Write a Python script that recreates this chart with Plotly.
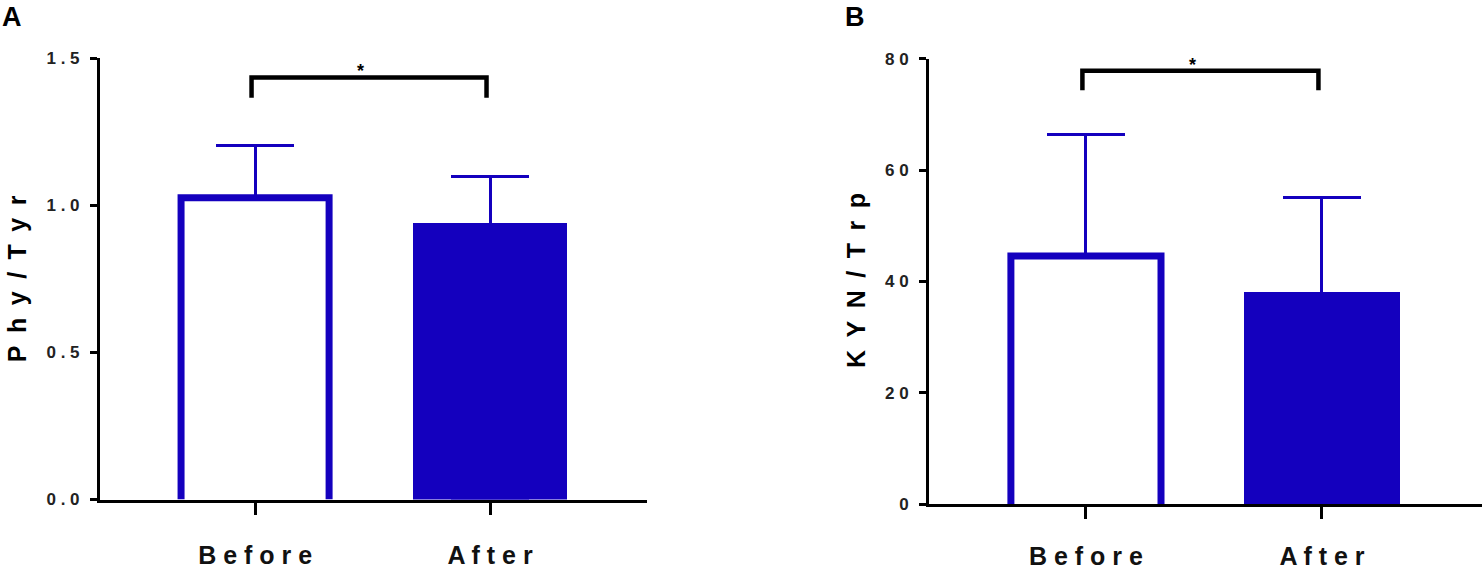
import plotly.graph_objects as go

# data
groups = ["Before", "After"]
phy_tyr_mean = [1.025, 0.94]
phy_tyr_sd = [0.177, 0.156]
kyn_trp_mean = [44.6, 38.2]
kyn_trp_sd = [21.9, 16.9]

# significance brackets: leg bottom, top
phy_bracket = [1.365, 1.434]
kyn_bracket = [74.4, 77.9]

BLUE = "#1400BE"
FONT = "Liberation Sans, Arial, sans-serif"


def spaced(s, gap=" "):
    # the original figure has letter-spaced labels
    return gap.join(list(s))


fig = go.Figure()


def add_panel(fig, xa, ya, means, sds, bracket, widths):
    xs = [0, 1]
    # white "Before" bar, filled "After" bar, each with an upward SD bar
    # (the After bar's lower whisker runs down inside the bar, so it is hidden)
    fig.add_trace(go.Bar(
        x=xs, y=means, width=widths,
        marker=dict(color=["white", BLUE], line=dict(width=0)),
        error_y=dict(type="data", array=sds, arrayminus=[0, means[1]], symmetric=False,
                     color=BLUE, thickness=3, width=39),
        xaxis=xa, yaxis=ya, showlegend=False, hoverinfo="skip",
    ))
    # open outline of the Before bar (no bottom edge)
    w = widths[0] / 2
    fig.add_trace(go.Scatter(
        x=[xs[0] - w, xs[0] - w, xs[0] + w, xs[0] + w],
        y=[0, means[0], means[0], 0],
        mode="lines", line=dict(color=BLUE, width=7),
        xaxis=xa, yaxis=ya, showlegend=False, hoverinfo="skip",
    ))
    # significance bracket
    fig.add_trace(go.Scatter(
        x=[-0.015, -0.015, 0.985, 0.985],
        y=[bracket[0], bracket[1], bracket[1], bracket[0]],
        mode="lines", line=dict(color="black", width=4.5),
        xaxis=xa, yaxis=ya, showlegend=False, hoverinfo="skip",
    ))
    fig.add_annotation(x=0.45, y=bracket[1], xref=xa, yref=ya, text="*",
                       showarrow=False, yanchor="bottom", yshift=-6,
                       font=dict(family=FONT, size=18, color="black", weight="bold"))


add_panel(fig, "x", "y", phy_tyr_mean, phy_tyr_sd, phy_bracket, [0.63, 0.655])
add_panel(fig, "x2", "y2", kyn_trp_mean, kyn_trp_sd, kyn_bracket, [0.636, 0.661])

tickfont = dict(family=FONT, size=17, color="#222", weight="bold")
catfont = dict(family=FONT, size=25, color="#111", weight="bold")

xcommon = dict(tickvals=[0, 1], ticktext=[spaced(g) for g in groups],
               showline=True, linecolor="black", linewidth=3,
               ticks="outside", ticklen=12, tickwidth=3, tickcolor="black",
               showgrid=False, zeroline=False, tickfont=catfont, automargin=False)
ycommon = dict(showline=True, linecolor="black", linewidth=3,
               ticks="outside", ticklen=7, tickwidth=3, tickcolor="black",
               showgrid=False, zeroline=False, tickfont=tickfont,
               ticklabelstandoff=7, automargin=False)

fig.update_layout(
    width=1482, height=571,
    margin=dict(l=0, r=0, t=0, b=0),
    paper_bgcolor="white", plot_bgcolor="white",
    bargap=0,
    xaxis=dict(domain=[100 / 1482, 647 / 1482], range=[-0.66, 1.668], anchor="y",
               ticklabelstandoff=19, **xcommon),
    yaxis=dict(domain=[0.1252, 0.8984], range=[0, 1.5], anchor="x",
               tickvals=[0, 0.5, 1.0, 1.5],
               ticktext=[spaced(t) for t in ["0.0", "0.5", "1.0", "1.5"]], **ycommon),
    xaxis2=dict(domain=[929 / 1482, 1.0], range=[-0.665, 1.678], anchor="y2",
                ticklabelstandoff=16, **xcommon),
    yaxis2=dict(domain=[0.1173, 0.8967], range=[0, 80], anchor="x2",
                tickvals=[0, 20, 40, 60, 80],
                ticktext=[spaced(t) for t in ["0", "20", "40", "60", "80"]], **ycommon),
)

titlefont = dict(family=FONT, size=25, color="black", weight="bold")
fig.add_annotation(x=17 / 1482, y=0.511, xref="paper", yref="paper",
                   text=spaced("Phy/Tyr", "\u2002"), textangle=-90, showarrow=False,
                   xanchor="center", yanchor="middle", font=titlefont)
fig.add_annotation(x=856 / 1482, y=0.508, xref="paper", yref="paper",
                   text=spaced("KYN/Trp", "\u2002"), textangle=-90, showarrow=False,
                   xanchor="center", yanchor="middle", font=titlefont)

letterfont = dict(family=FONT, size=27, color="black", weight="bold")
fig.add_annotation(x=0, y=1.0, xref="paper", yref="paper", text="A",
                   showarrow=False, xanchor="left", yanchor="top", font=letterfont)
fig.add_annotation(x=843 / 1482, y=1.0, xref="paper", yref="paper", text="B",
                   showarrow=False, xanchor="left", yanchor="top", font=letterfont)

# drop the browser's default 8px body margin so the figure fills the window
fig.write_html("out.html", config={"displayModeBar": False},
               post_script="document.body.style.margin = '0';")
